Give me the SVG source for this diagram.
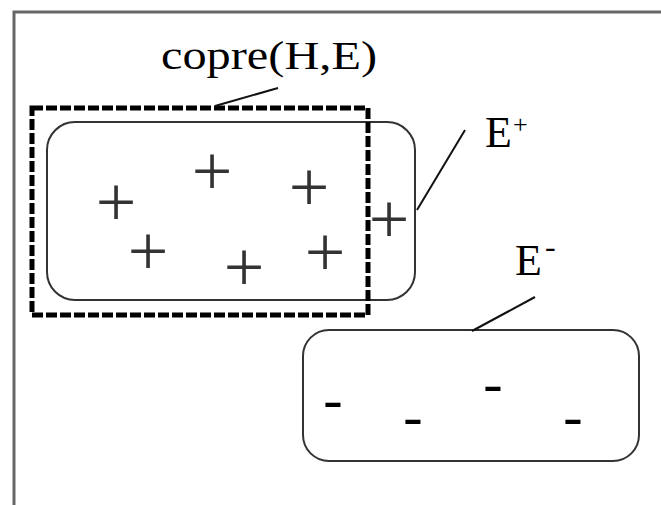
<svg xmlns="http://www.w3.org/2000/svg" width="661" height="505" viewBox="0 0 661 505">
<style>
  text { font-family: "Liberation Serif", "Times New Roman", serif; fill: #000; }
  .lbl { font-size: 44px; }
  .pl { font-size: 72px; text-anchor: middle; fill: #333; }
  .mn { font-size: 58px; text-anchor: middle; }
  .set { fill: none; stroke: #333; stroke-width: 2; }
  .lead { stroke: #111; stroke-width: 2; fill: none; }
</style>
<rect width="661" height="505" fill="#fff"/>
<g id="frame">
  <path d="M14 505 V12 H661" fill="none" stroke="#666" stroke-width="3"/>
</g>
<g id="e-plus">
  <rect class="set" x="47" y="122" width="368" height="178" rx="28"/>
  <text class="pl" x="116" y="226">+</text>
  <text class="pl" x="212" y="195">+</text>
  <text class="pl" x="309" y="211">+</text>
  <text class="pl" x="389" y="243">+</text>
  <text class="pl" x="148" y="275">+</text>
  <text class="pl" x="244" y="291">+</text>
  <text class="pl" x="325" y="276">+</text>
  <text class="lbl" x="485" y="147">E<tspan x="513" y="133" font-size="26">+</tspan></text>
</g>
<g id="copre">
  <rect x="32" y="108" width="336" height="207" fill="none" stroke="#000" stroke-width="5" stroke-dasharray="11 3"/>
  <text x="161" y="69" font-size="41" textLength="216" lengthAdjust="spacingAndGlyphs">copre(H,E)</text>
</g>
<g id="e-minus">
  <rect class="set" x="303" y="330" width="336" height="131" rx="26"/>
  <text class="mn" x="333" y="418">-</text>
  <text class="mn" x="413" y="435">-</text>
  <text class="mn" x="493" y="402">-</text>
  <text class="mn" x="573" y="435">-</text>
  <text class="lbl" x="515" y="275">E<tspan x="545" y="257" font-size="32">-</tspan></text>
</g>
<g id="connectors">
  <line class="lead" x1="215" y1="106" x2="278" y2="88"/>
  <line class="lead" x1="417" y1="210" x2="465" y2="130"/>
  <line class="lead" x1="472" y1="331" x2="535" y2="297"/>
</g>
</svg>
